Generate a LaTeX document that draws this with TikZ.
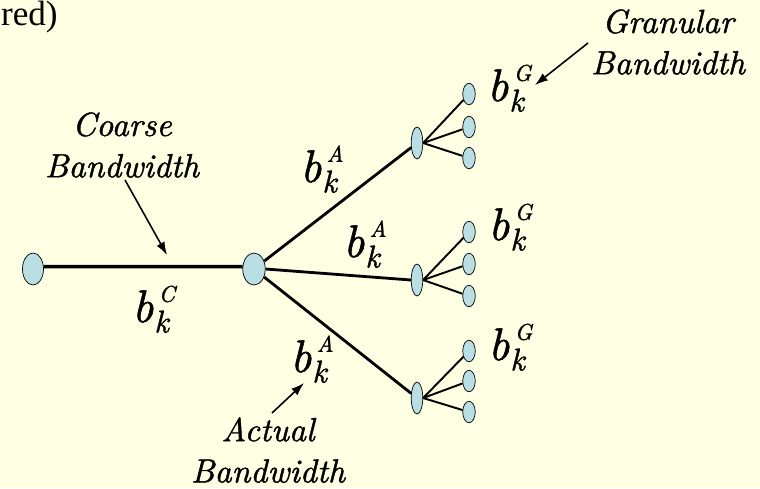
\documentclass[tikz,border=0pt]{standalone}
\usepackage{fontspec}
\setmainfont{Liberation Serif}
\newfontfamily\itfont{lmroman10-italic.otf}[FakeBold=1.2]
\usepackage{tikz}
\usetikzlibrary{arrows.meta, positioning, shapes.geometric}

\definecolor{paper}{RGB}{255,255,228}
\definecolor{nodeblue}{RGB}{185,222,228}

% b with subscript k and a superscript tag
\newcommand{\bwsym}[1]{{\fontsize{26}{26}\selectfont b}\kern0.5pt%
  \rlap{\kern2.5pt\raisebox{11.5pt}{\fontsize{13}{13}\selectfont #1}}%
  \raisebox{-6pt}{\fontsize{18}{18}\selectfont k}}

\begin{document}
\begin{tikzpicture}[
    x=0.02cm, y=-0.02cm,
    bignode/.style={
        ellipse,
        draw=black,
        fill=nodeblue,
        inner sep=0pt,
        minimum width=0.42cm,
        minimum height=0.64cm
    },
    midnode/.style={bignode, minimum width=0.23cm, minimum height=0.64cm},
    leaf/.style={bignode, minimum width=0.25cm, minimum height=0.43cm},
    coarse/.style={line width=2pt},
    link/.style={line width=1.6pt},
    twig/.style={line width=1.1pt},
    note/.style={font=\itfont\fontsize{19}{23.5}\selectfont, align=center, inner sep=0pt},
    bw/.style={font=\itfont, inner sep=0pt, anchor=base west},
    arrow/.style={-{Latex[length=2.6mm, width=1.8mm]}, line width=0.9pt}
]
\fill[paper] (0,0) rectangle (760,488);
\useasboundingbox (0,0) rectangle (760,488);

\node[inner sep=0pt, anchor=base east, font=\fontsize{20}{20}\selectfont] (title) at (58,25) {red)};

% tree
\node[bignode] (leftend) at (33,269) {};
\node[bignode, minimum width=0.45cm] (hub) at (254,269) {};

\node[midnode] (mtop) at (417,143) {};
\node[midnode] (mmid) at (417,280) {};
\node[midnode] (mbot) at (417,398) {};

\node[leaf] (gt1) at (469,94) {};
\node[leaf] (gt2) at (469,127) {};
\node[leaf] (gt3) at (469,158) {};
\node[leaf] (gm1) at (469,232) {};
\node[leaf] (gm2) at (469,264) {};
\node[leaf] (gm3) at (469,296) {};
\node[leaf] (gb1) at (469,351) {};
\node[leaf] (gb2) at (469,381) {};
\node[leaf] (gb3) at (469,412) {};

\draw[coarse] (leftend.12) -- (hub.168);

\draw[link] (hub) -- (mtop);
\draw[link] (hub.east) -- (mmid.west);
\draw[link] (hub) -- (mbot);

\draw[twig] (mtop.east) -- (gt1);
\draw[twig] (mtop.east) -- (gt2);
\draw[twig] (mtop.east) -- (gt3);
\draw[twig] (mmid.east) -- (gm1);
\draw[twig] (mmid.east) -- (gm2);
\draw[twig] (mmid.east) -- (gm3);
\draw[twig] (mbot.east) -- (gb1);
\draw[twig] (mbot.east) -- (gb2);
\draw[twig] (mbot.east) -- (gb3);

% bandwidth symbols
\node[bw] (bC) at (132,322) {\bwsym{C}};
\node[bw] (bA1) at (300,182) {\bwsym{A}};
\node[bw] (bA2) at (343,257) {\bwsym{A}};
\node[bw] (bA3) at (290,372) {\bwsym{A}};
\node[bw] (bG1) at (487,101) {\bwsym{G}};
\node[bw] (bG2) at (488,240) {\bwsym{G}};
\node[bw] (bG3) at (488,360) {\bwsym{G}};

% notes
\node[note] (coarsenote) at (122,145) {Coarse\\Bandwidth};
\node[note] (granularnote) at (668,42) {Granular\\Bandwidth};
\node[note] (actualnote) at (268,450) {Actual\\Bandwidth};

\coordinate (coarsetail) at (125,180);
\coordinate (coarsetip) at (167,255);
\coordinate (grantail) at (588,43);
\coordinate (grantip) at (535,85);
\coordinate (actualtail) at (272,413);
\coordinate (actualtip) at (304,383);

\draw[arrow] (coarsetail) -- (coarsetip);
\draw[arrow] (grantail) -- (grantip);
\draw[arrow] (actualtail) -- (actualtip);

\end{tikzpicture}
\end{document}
